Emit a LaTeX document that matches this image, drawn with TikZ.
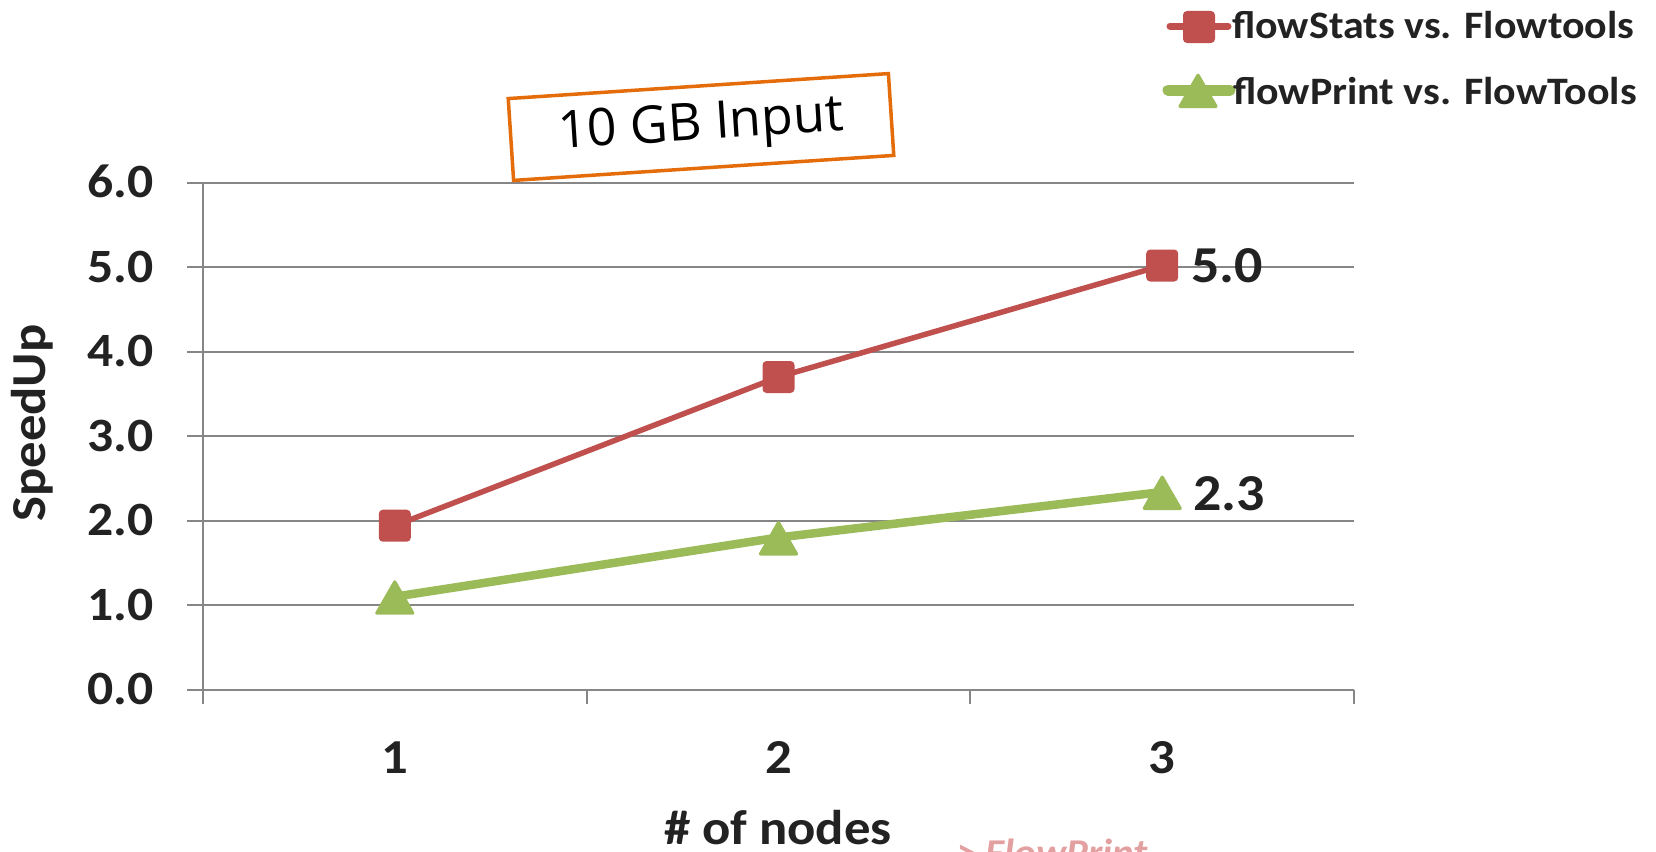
\documentclass[tikz,border=0pt]{standalone}
\usepackage{fontspec}
\setmainfont{Carlito}[FakeStretch=1.08]
\newfontfamily\titlefont{Open Sans}
\usetikzlibrary{shapes.geometric}
\definecolor{serred}{HTML}{C0504D}
\definecolor{sergreen}{HTML}{9BBB59}
\definecolor{gridgray}{HTML}{868686}
\definecolor{txt}{HTML}{222222}
\definecolor{boxorange}{HTML}{E46C0A}
\definecolor{pinktxt}{HTML}{E3A0A0}
\begin{document}
\begin{tikzpicture}[x=1bp,y=-1bp,
  grid/.style={draw=gridgray, line width=2bp},
  redline/.style={draw=serred, line width=5.5bp, line cap=round, line join=round},
  greenline/.style={draw=sergreen, line width=8.5bp, line cap=round, line join=round},
  redmark/.style={rectangle, fill=serred, minimum size=32bp, inner sep=0, rounded corners=4bp},
  greenmark/.style={regular polygon, regular polygon sides=3, fill=sergreen, minimum size=48bp, inner sep=0, rounded corners=3bp, yshift=-6bp},
  ticklab/.style={font=\fontsize{48}{50}\selectfont\bfseries, text=txt, inner sep=0, anchor=base east},
  catlab/.style={font=\fontsize{49}{51}\selectfont\bfseries, text=txt, inner sep=0, anchor=base},
  axlab/.style={font=\fontsize{49}{51}\selectfont\bfseries, text=txt, inner sep=0},
  datalab/.style={font=\fontsize{52}{54}\selectfont\bfseries, text=txt, inner sep=0, anchor=west},
  leglab/.style={font=\fontsize{39}{41}\selectfont\bfseries, text=txt, inner sep=0, anchor=west},
  titlebox/.style={draw=boxorange, line width=3.5bp, fill=white, minimum width=381bp, minimum height=82bp, inner sep=0, font=\titlefont\fontsize{52}{54}\selectfont, text=black}
]
\useasboundingbox (0,0) rectangle (1656,851);
% gridlines and axes
\foreach \v in {0,...,6} {
  \draw[grid] (187,{689.6-84.48*\v}) -- (1354,{689.6-84.48*\v});
  \node[ticklab] (t\v) at (154,{689.6-84.48*\v+15}) {\v.0};
}
\draw[grid] (203,182.7) -- (203,704);
\foreach \x in {203,586.7,970.3,1354} \draw[grid] (\x,689.6) -- (\x,704);
% category labels
\node[catlab] (c1) at (394.8,773) {1};
\node[catlab] (c2) at (778.5,773) {2};
\node[catlab] (c3) at (1162.2,773) {3};
% axis titles
\node[axlab, rotate=90] (ylab) at (32,423) {SpeedUp};
\node[axlab, anchor=base] (xlab) at (778,844) {\# of nodes};
\node[font=\fontsize{38}{40}\selectfont\bfseries\itshape, text=pinktxt, inner sep=0, anchor=base west] (fp) at (956,865) {> FlowPrint};
% title box
\node[titlebox, rotate=3.76] (title) at (701,127) {10 GB Input};
% data points
\coordinate (rp1) at (394.8,525.7);
\coordinate (rp2) at (778.5,377.0);
\coordinate (rp3) at (1162.2,265.5);
\coordinate (gp1) at (394.8,596.7);
\coordinate (gp2) at (778.5,537.5);
\coordinate (gp3) at (1162.2,492);
% series lines
\draw[redline] (rp1) -- (rp2) -- (rp3);
\draw[greenline] (gp1) -- (gp2) -- (gp3);
% markers
\node[redmark] (r1) at (rp1) {};
\node[redmark] (r2) at (rp2) {};
\node[redmark] (r3) at (rp3) {};
\node[greenmark] (g1) at (gp1) {};
\node[greenmark] (g2) at (gp2) {};
\node[greenmark] (g3) at (gp3) {};
% data labels
\node[datalab] (l5) at (1191,266) {5.0};
\node[datalab] (l2) at (1193,494) {2.3};
% legend
\coordinate (lra) at (1170,26);
\coordinate (lrb) at (1228,26);
\draw[redline, line width=7bp] (lra) -- (lrb);
\node[redmark] (lgr) at (1199,27) {};
\node[leglab] (legr) at (1232,25) {flowStats vs. Flowtools};
\coordinate (lga) at (1168,90);
\coordinate (lgb) at (1230,90);
\draw[greenline, line width=11bp] (lga) -- (lgb);
\node[greenmark] (lgg) at (1198,90) {};
\node[leglab] (legg) at (1233,91) {flowPrint vs. FlowTools};
\end{tikzpicture}
\end{document}
